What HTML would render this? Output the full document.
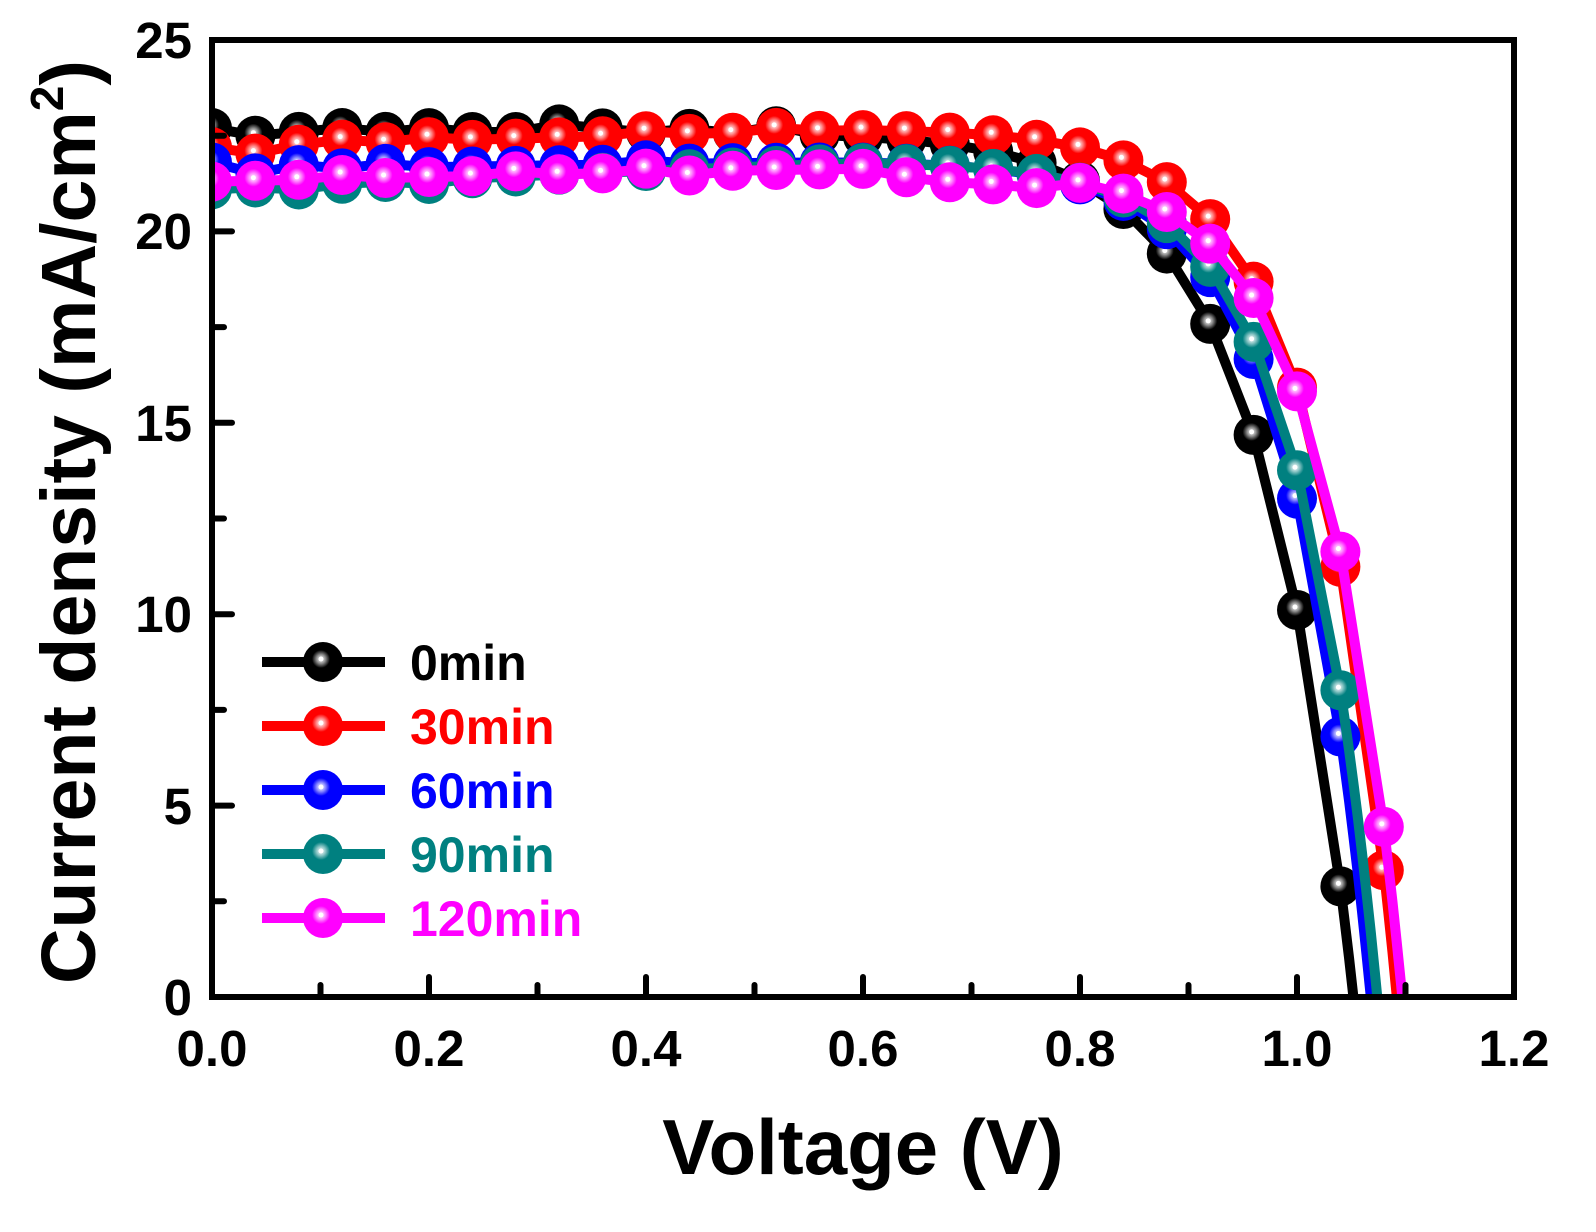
<!DOCTYPE html>
<html><head><meta charset="utf-8"><style>
html,body{margin:0;padding:0;background:#fff}
svg{display:block}
text{font-family:"Liberation Sans",Arial,sans-serif;font-weight:bold}
</style></head><body>
<svg id="s" width="1596" height="1232" xmlns="http://www.w3.org/2000/svg">
<defs>
<radialGradient id="hl"><stop offset="0" stop-color="#fff" stop-opacity="1"/><stop offset="0.45" stop-color="#fff" stop-opacity="0.6"/><stop offset="1" stop-color="#fff" stop-opacity="0"/></radialGradient>
<clipPath id="cp"><rect x="212" y="40" width="1302" height="957"/></clipPath>
</defs>
<g id="plot" clip-path="url(#cp)"></g>
<g id="leg"></g>
<rect x="212" y="40" width="1302" height="957" fill="none" stroke="#000" stroke-width="6"/>
<g id="ticks" stroke="#000" stroke-width="6" stroke-linecap="round"></g>
<g font-size="51" text-anchor="middle">
<text x="212" y="1066">0.0</text><text x="429" y="1066">0.2</text><text x="646" y="1066">0.4</text><text x="863" y="1066">0.6</text><text x="1080" y="1066">0.8</text><text x="1297" y="1066">1.0</text><text x="1514" y="1066">1.2</text>
</g>
<g font-size="51" text-anchor="end">
<text x="192" y="1015">0</text><text x="192" y="824">5</text><text x="192" y="632">10</text><text x="192" y="441">15</text><text x="192" y="249">20</text><text x="192" y="58">25</text>
</g>
<text x="863" y="1174" font-size="78" text-anchor="middle">Voltage (V)</text>
<text transform="translate(95,522) rotate(-90)" font-size="77" text-anchor="middle">Current density (mA/cm<tspan font-size="46" dy="-32">2</tspan><tspan dy="32">)</tspan></text>
</svg>
<script>
var X=v=>212+v*1085, Y=j=>997-j*38.28;
var S=[
 {c:"#000",J:22.6,sl:0.0,V:1.052,a:0.0877,lab:"0min",n:[0.1,-0.1,0,0.1,0,0.1,0,0,0.2,0.1,0,0.1,0,0.2,0,0,0,0]},
 {c:"#f00",J:22.2,sl:0.8,V:1.092,a:0.076,lab:"30min",n:[0,-0.2,0,0.1,0,0.1,0,0,0,0,0.1,0,0,0.1,0,0,0,0]},
 {c:"#00f",J:21.6,sl:0.4,V:1.068,a:0.075,lab:"60min",n:[0.2,-0.1,0.1,0,0.1,0,0,0,0,0,0.1,0,0,0,0,0,0,0]},
 {c:"#008080",J:21.1,sl:1.2,V:1.074,a:0.0743,lab:"90min",n:[0,0,-0.1,0,0,-0.1,0,0,0,0,0,0,0,0,0,0,0,0]},
 {c:"#f0f",J:21.3,sl:0.6,V:1.097,a:0.074,lab:"120min",n:[0,0,0,0.1,0,0,0,0.1,0,0,0.1,-0.1,0,0,0,0,-0.2,-0.3,-0.3,-0.3]}
];
function f(s,v){var js=s.J+s.sl*Math.min(v,0.6);return js*(1-Math.exp((v-s.V)/s.a))/(1-Math.exp(-s.V/s.a));}
var ns="http://www.w3.org/2000/svg",P=document.getElementById("plot"),L=document.getElementById("leg");
function el(t,a,p){var e=document.createElementNS(ns,t);for(var k in a)e.setAttribute(k,a[k]);p.appendChild(e);return e;}
function mk(x,y,c,p){el("circle",{cx:x,cy:y,r:20,fill:c},p);el("circle",{cx:x-2,cy:y-3,r:9,fill:"url(#hl)"},p);el("circle",{cx:x-2,cy:y-3,r:2.5,fill:"#fff"},p);}
S.forEach(function(s){
 var pts=[];
 for(var i=0;i<=30;i++){var v=i*0.04;if(v>s.V)break;var j=f(s,v)+(s.n[i]||0);pts.push([v,j]);}
 var d="";pts.forEach(function(p,i){d+=(i?"L":"M")+X(p[0]).toFixed(1)+","+Y(p[1]).toFixed(1);});
 var last=pts[pts.length-1][0];for(var v=last;v<=s.V+0.01;v+=0.004){d+="L"+X(v).toFixed(1)+","+Y(f(s,v)).toFixed(1);}
 d+="L"+X(s.V+0.002).toFixed(1)+","+Y(-1);
 el("path",{d:d,fill:"none",stroke:s.c,"stroke-width":10,"stroke-linejoin":"round"},P);
 pts.forEach(function(p){mk(X(p[0]),Y(p[1]),s.c,P);});
});
S.forEach(function(s,i){var y=662+i*64;
 el("line",{x1:262,y1:y,x2:385,y2:y,stroke:s.c,"stroke-width":10},L);mk(323,y,s.c,L);
 var t=el("text",{x:410,y:y+18,"font-size":50,fill:s.c},L);t.textContent=s.lab;});
var T=document.getElementById("ticks");
for(var i=0;i<=12;i++){var x=X(i*0.1);el("line",{x1:x,y1:997,x2:x,y2:i%2?985:977},T);}
for(var i=0;i<=10;i++){var y=Y(i*2.5);el("line",{x1:212,y1:y,x2:i%2?224:232,y2:y},T);}
</script>
</body></html>
